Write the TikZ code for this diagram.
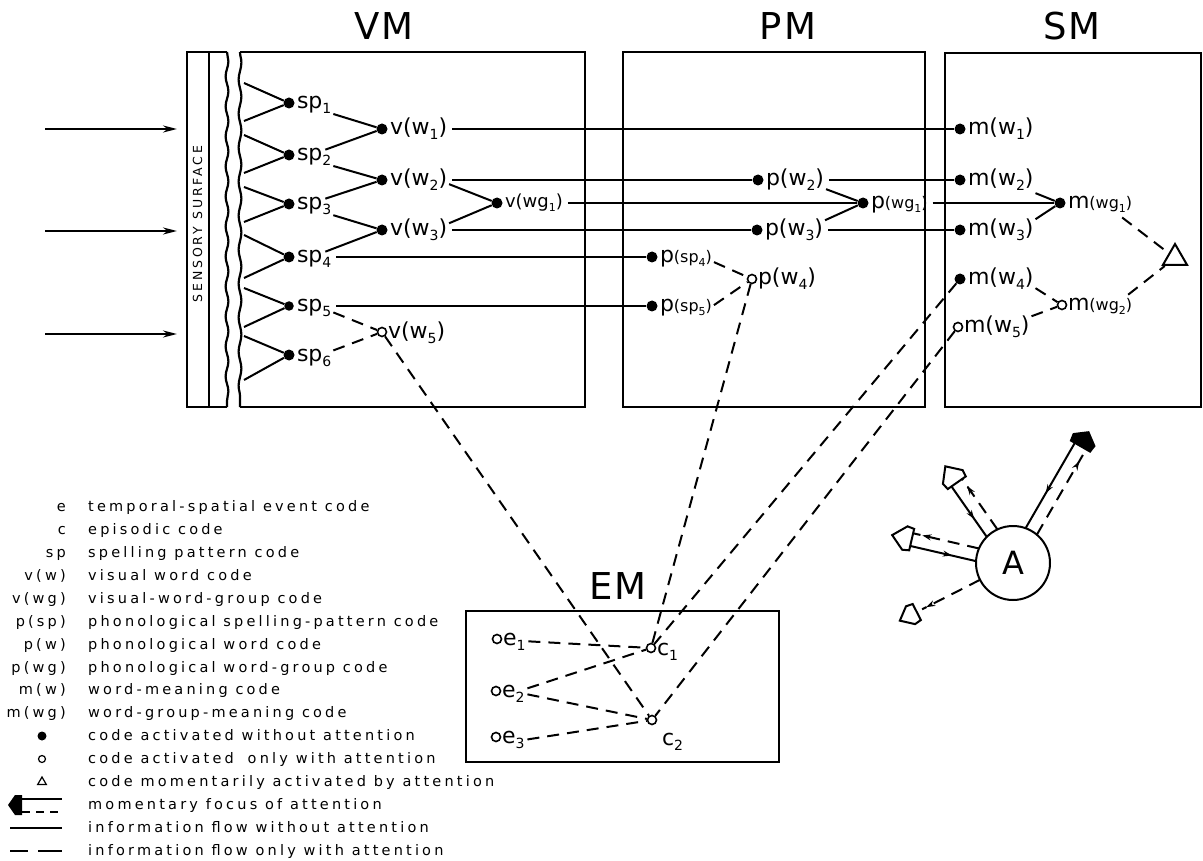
\documentclass[tikz,border=0pt]{standalone}
\usepackage{fontspec}
\setmainfont{DejaVu Sans}
\newfontfamily\lgfont[LetterSpace=22]{DejaVu Sans}
\newfontfamily\ssfont[LetterSpace=22]{DejaVu Sans}
\newfontfamily\ttlfont[LetterSpace=6]{DejaVu Sans}
\usetikzlibrary{arrows.meta,decorations.markings,decorations.pathmorphing,calc,shapes.geometric}
\newcommand\sub[1]{\raisebox{-5pt}{\fontsize{14}{14}\selectfont #1}}
\newcommand\ssub[1]{\raisebox{-3.5pt}{\fontsize{11}{11}\selectfont #1}}
\newcommand\sm[1]{{\fontsize{16}{18}\selectfont #1}}
\newcommand\lab[3][8pt]{\node[lbl] (#2l) at ([xshift=#1,yshift=-6pt]#2.center) {#3};}
\newcommand\hl[3]{\draw[ln] let \p1=(#1.east), \p2=(#2) in (\x1+5pt,\y2) -- (#3);}
\newcommand\ray[4]{%
\begin{scope}[shift={(A.center)},x=1pt,y=1pt,rotate=#1]
 \draw[ln,postaction={decorate,solid},decoration={markings,mark=at position 0.5 with {\arrow{Stealth[length=9pt,width=6pt,reversed]}}}] (36.5,6.5) -- (#2,6.5);
 \draw[dsh,postaction={decorate,solid},decoration={markings,mark=at position 0.86 with {\arrow{Stealth[length=9pt,width=6pt]}}}] (36.5,-6.5) -- (#2,-6.5);
 \draw[line width=2pt,#3] (#2,-11) -- (#2+7,-12) -- (#2+#4,0) -- (#2+7,12) -- (#2,11) -- cycle;
\end{scope}}
\begin{document}
\begin{tikzpicture}[x=1pt,y=-1pt,
 dot/.style={circle,fill=black,inner sep=0pt,minimum size=11pt},
 odot/.style={circle,draw=black,fill=white,line width=1.6pt,inner sep=0pt,minimum size=9pt},
 lbl/.style={inner sep=0pt,outer sep=0pt,anchor=base west,font=\fontsize{22}{26}\selectfont},
 ln/.style={line width=2pt},
 dsh/.style={line width=2pt,dash pattern=on 12pt off 8pt},
 box/.style={line width=2.2pt},
 ttl/.style={font=\ttlfont\fontsize{37}{40}\selectfont,inner sep=0pt},
 lgs/.style={font=\lgfont\fontsize{14.5}{16}\selectfont,anchor=base east,inner sep=0pt},
 lgt/.style={font=\lgfont\fontsize{14.5}{16}\selectfont,anchor=base west,inner sep=0pt}]
\fill[white] (0,0) rectangle (1203,861);
\useasboundingbox (0,0) rectangle (1203,861);

% titles
\node[ttl] (tVM) at (384,26.5) {VM};
\node[ttl] (tPM) at (788,26.5) {PM};
\node[ttl] (tSM) at (1072,26) {SM};
\node[ttl] (tEM) at (618,586) {EM};

% sensory surface
\draw[box] (227,52) -- (187,52) -- (187,407) -- (227,407);
\draw[line width=2pt] (209,52) -- (209,407);
\draw[box,decorate,decoration={snake,amplitude=1.4pt,segment length=30pt}] (227,52) -- (227,407);
\node[rotate=90,font=\ssfont\fontsize{12.5}{13}\selectfont,inner sep=0pt] (sens) at (197.5,224) {SENSORY\hspace{8pt}SURFACE};

% input arrows
\coordinate (in1s) at (45,129); \coordinate (in1e) at (177,129);
\coordinate (in2s) at (45,231); \coordinate (in2e) at (177,231);
\coordinate (in3s) at (45,334); \coordinate (in3e) at (177,334);
\foreach \k in {1,2,3} {\draw[ln,-{Stealth[length=14pt,width=7pt]}] (in\k s) -- (in\k e);}

% boxes
\draw[box] (240,52) -- (585,52) -- (585,407) -- (240,407);
\draw[box,decorate,decoration={snake,amplitude=1.4pt,segment length=34pt}] (240,52) -- (240,407);
\draw[box] (623,52) rectangle (925,407);
\draw[box] (945,53) rectangle (1201,407);
\draw[box] (466,611) rectangle (779,762);

% VM codes
\node[dot] (sp1) at (289,103) {};
\node[dot] (sp2) at (289,155) {};
\node[dot] (sp3) at (289,204) {};
\node[dot] (sp4) at (289,257) {};
\node[dot,minimum size=9.5pt] (sp5) at (289,306) {};
\node[dot] (sp6) at (289,355) {};
\lab{sp1}{sp\sub{1}}
\lab{sp2}{sp\sub{2}}
\lab{sp3}{sp\sub{3}}
\lab{sp4}{sp\sub{4}}
\lab{sp5}{sp\sub{5}}
\lab{sp6}{sp\sub{6}}
\node[dot] (vw1) at (382,129) {};
\node[dot] (vw2) at (382,180) {};
\node[dot] (vw3) at (382,230) {};
\node[odot] (vw5) at (382,332) {};
\lab{vw1}{v(w\sub{1})}
\lab{vw2}{v(w\sub{2})}
\lab{vw3}{v(w\sub{3})}
\lab[6pt]{vw5}{v(w\sub{5})}
\node[dot] (vwg1) at (497,203) {};
\node[lbl,font=\fontsize{18}{20}\selectfont] (vwg1l) at ([xshift=8pt,yshift=-5pt]vwg1.center) {v(wg\ssub{1})};

% PM codes
\node[dot] (psp4) at (652,257) {};
\node[dot] (psp5) at (652,306) {};
\lab{psp4}{p\sm{(sp\ssub{4})}}
\lab{psp5}{p\sm{(sp\ssub{5})}}
\node[odot] (pw4) at (752,279) {};
\lab[6pt]{pw4}{p(w\sub{4})}
\node[dot] (pw2) at (758,180) {};
\node[dot] (pw3) at (757,230) {};
\lab{pw2}{p(w\sub{2})}
\lab{pw3}{p(w\sub{3})}
\node[dot] (pwg1) at (863,203) {};
\lab{pwg1}{p\sm{(wg\ssub{1})}}

% SM codes
\node[dot] (mw1) at (960,129) {};
\node[dot] (mw2) at (960,180) {};
\node[dot] (mw3) at (960,230) {};
\node[dot] (mw4) at (960,279) {};
\node[odot] (mw5) at (958,327) {};
\lab{mw1}{m(w\sub{1})}
\lab{mw2}{m(w\sub{2})}
\lab{mw3}{m(w\sub{3})}
\lab{mw4}{m(w\sub{4})}
\lab[6pt]{mw5}{m(w\sub{5})}
\node[dot] (mwg1) at (1060,203) {};
\lab{mwg1}{m\sm{(wg\ssub{1})}}
\node[odot] (mwg2) at (1062,305) {};
\lab[6pt]{mwg2}{m\sm{(wg\ssub{2})}}
\node[regular polygon,regular polygon sides=3,draw,line width=2pt,minimum size=28pt,inner sep=0pt] (tri) at (1175,258) {};

% EM codes
\node[odot] (e1) at (497,639) {};
\node[odot] (e2) at (496,691) {};
\node[odot] (e3) at (496,737) {};
\lab[6pt]{e1}{e\sub{1}}
\lab[6pt]{e2}{e\sub{2}}
\lab[6pt]{e3}{e\sub{3}}
\node[odot] (c1) at (651,648) {};
\node[odot] (c2) at (652,720) {};
\node[lbl] (c1l) at ([xshift=6pt,yshift=-7pt]c1.center) {c\sub{1}};
\node[lbl] (c2l) at ([xshift=10pt,yshift=-25pt]c2.center) {c\sub{2}};

% zigzag from sensory surface
\foreach \n/\a/\b in {1/83/121,2/135/173,3/187/222,4/235/278,5/288/327,6/336/380}{
  \coordinate (z\n a) at (244,\a); \coordinate (z\n b) at (244,\b);
  \draw[ln] (z\n a) -- (sp\n) -- (z\n b);}

% spelling patterns to words
\draw[ln] ([xshift=2pt]sp1l.south east) -- (vw1);
\draw[ln] ([xshift=-6pt,yshift=-1pt]sp2l.north east) -- (vw1);
\draw[ln] ([xshift=2pt]sp2l.south east) -- (vw2);
\draw[ln] ([xshift=-6pt,yshift=-1pt]sp3l.north east) -- (vw2);
\draw[ln] ([xshift=2pt]sp3l.south east) -- (vw3);
\draw[ln] ([xshift=-6pt,yshift=-1pt]sp4l.north east) -- (vw3);
\hl{sp4l}{sp4}{psp4}
\hl{sp5l}{sp5}{psp5}
\draw[dsh] ([xshift=2pt,yshift=-4pt]sp5l.east) -- (vw5);
\draw[dsh] ([xshift=2pt,yshift=7pt]sp6l.east) -- (vw5);

% word level
\hl{vw1l}{vw1}{mw1}
\hl{vw2l}{vw2}{pw2}
\hl{vw3l}{vw3}{pw3}
\draw[ln] ([xshift=2pt,yshift=-4pt]vw2l.east) -- (vwg1);
\draw[ln] ([xshift=2pt,yshift=7pt]vw3l.east) -- (vwg1);
\hl{vwg1l}{vwg1}{pwg1}

% phonological
\draw[dsh] ([xshift=2pt,yshift=-3pt]psp4l.east) -- (pw4);
\draw[dsh] ([xshift=2pt,yshift=3pt]psp5l.east) -- (pw4);
\draw[ln] ([xshift=2pt,yshift=-9pt]pw2l.east) -- (pwg1);
\draw[ln] ([xshift=2pt,yshift=10pt]pw3l.east) -- (pwg1);
\hl{pw2l}{pw2}{mw2}
\hl{pw3l}{pw3}{mw3}
\hl{pwg1l}{pwg1}{mwg1}

% semantic
\draw[ln] ([xshift=2pt,yshift=-13pt]mw2l.east) -- (mwg1);
\draw[ln] ([xshift=2pt,yshift=11pt]mw3l.east) -- (mwg1);
\draw[dsh] ([xshift=2pt,yshift=-9pt]mw4l.east) -- (mwg2);
\draw[dsh] ([xshift=2pt,yshift=11pt]mw5l.east) -- (mwg2);
\draw[dsh] ([xshift=-10pt,yshift=-5pt]mwg1l.south east) -- (tri);
\draw[dsh] ([xshift=-4pt,yshift=4pt]mwg2l.north east) -- (tri);

% episodic links
\draw[dsh] (vw5) -- (c2);
\draw[dsh] (pw4) -- (c1);
\draw[dsh] (mw4) -- (c1);
\draw[dsh] (mw5) -- (c2);
\draw[dsh] ([xshift=3pt]e1l.east) -- (c1);
\draw[dsh] ([xshift=3pt,yshift=5pt]e2l.east) -- (c1);
\draw[dsh] ([xshift=3pt,yshift=-1pt]e2l.east) -- (c2);
\draw[dsh] ([xshift=3pt]e3l.east) -- (c2);

% attention
\node[circle,draw,line width=2pt,minimum size=74pt,inner sep=0pt,font=\fontsize{32}{32}\selectfont] (A) at (1013,563) {A};
\ray{60}{135}{fill=black}{16}
\ray{125}{98}{fill=white}{20}
\ray{167}{104}{fill=white}{20}
\begin{scope}[shift={(A.center)},x=1pt,y=1pt,rotate=207]
 \draw[dsh,postaction={decorate,solid},decoration={markings,mark=at position 0.93 with {\arrow{Stealth[length=9pt,width=6pt]}}}] (37,0) -- (102,0);
 \draw[line width=2pt,fill=white] (108,-9) -- (115,-10) -- (127,0) -- (115,10) -- (108,9) -- cycle;
\end{scope}

% legend
\node[lgs] (ls1) at (66,511) {e};         \node[lgt] (lt1) at (88,511) {temporal-spatial event code};
\node[lgs] (ls2) at (66,534) {c};         \node[lgt] (lt2) at (88,534) {episodic code};
\node[lgs] (ls3) at (66,557) {sp};        \node[lgt] (lt3) at (88,557) {spelling pattern code};
\node[lgs] (ls4) at (66,580) {v(w)};      \node[lgt] (lt4) at (88,580) {visual word code};
\node[lgs] (ls5) at (66,603) {v(wg)};     \node[lgt] (lt5) at (88,603) {visual-word-group code};
\node[lgs] (ls6) at (66,626) {p(sp)};     \node[lgt] (lt6) at (88,626) {phonological spelling-pattern code};
\node[lgs] (ls7) at (66,649) {p(w)};      \node[lgt] (lt7) at (88,649) {phonological word code};
\node[lgs] (ls8) at (66,672) {p(wg)};     \node[lgt] (lt8) at (88,672) {phonological word-group code};
\node[lgs] (ls9) at (66,694) {m(w)};      \node[lgt] (lt9) at (88,694) {word-meaning code};
\node[lgs] (ls10) at (66,717) {m(wg)};    \node[lgt] (lt10) at (88,717) {word-group-meaning code};
\node[dot,minimum size=9pt] (ls11) at (42,736) {};
\node[lgt] (lt11) at (88,740) {code activated without attention};
\node[odot,minimum size=7pt,line width=1.2pt] (ls12) at (42,759) {};
\node[lgt] (lt12) at (88,763) {code activated\hspace{6pt} only with attention};
\node[regular polygon,regular polygon sides=3,draw,line width=1.2pt,minimum size=10pt,inner sep=0pt] (ls13) at (42,782) {};
\node[lgt] (lt13) at (88,786) {code momentarily activated by attention};
\fill (8,805) -- (15,795) -- (22,795) -- (22,815) -- (15,815) -- cycle;
\draw[ln] (22,799) -- (62,799);
\draw[line width=1.8pt,dash pattern=on 8pt off 6pt] (22,812) -- (62,812);
\node[lgt] (lt14) at (88,809) {momentary focus of attention};
\draw[ln] (10,828) -- (62,828);
\node[lgt] (lt15) at (88,832) {information flow without attention};
\draw[ln] (10,851) -- (28,851);
\draw[ln] (38,851) -- (62,851);
\node[lgt] (lt16) at (88,855) {information flow only with attention};
\end{tikzpicture}
\end{document}
